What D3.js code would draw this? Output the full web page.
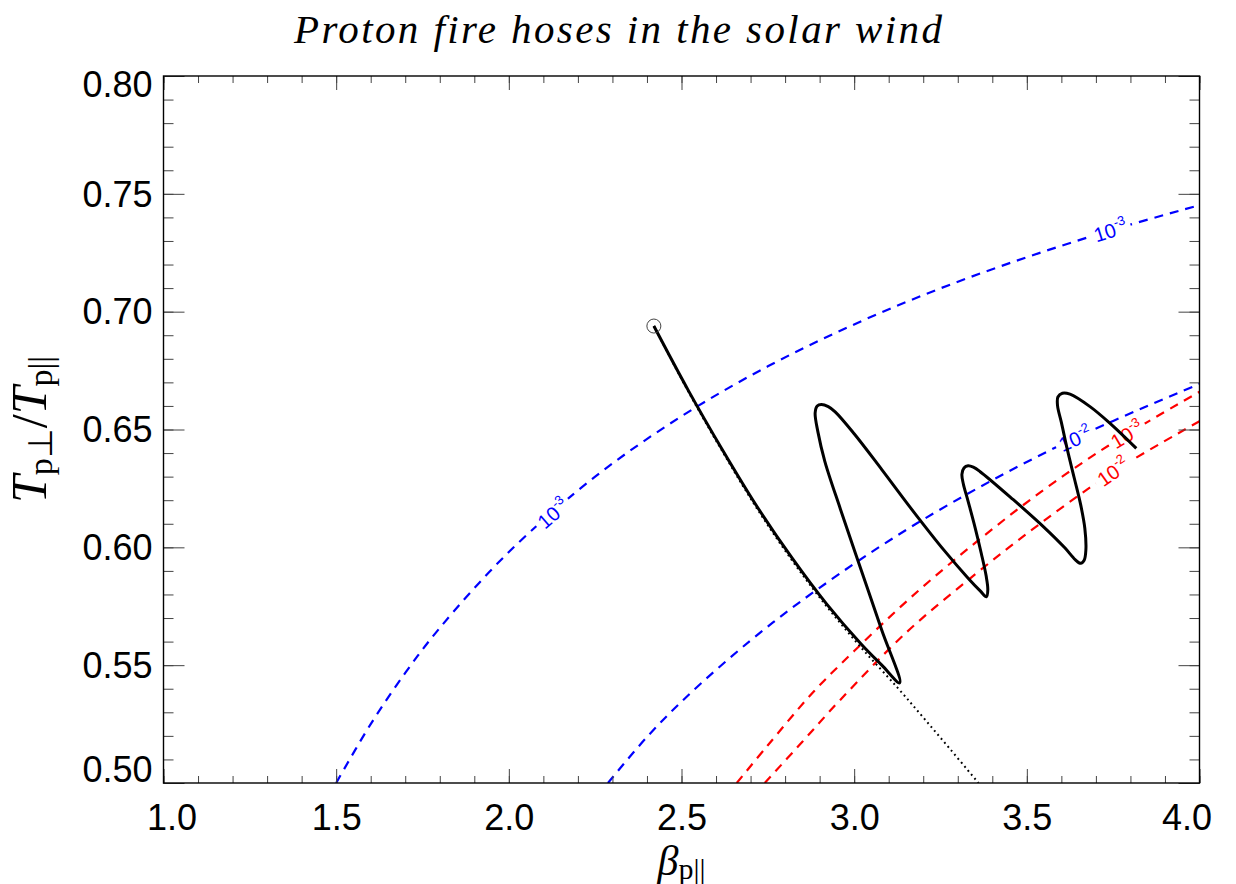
<!DOCTYPE html>
<html>
<head>
<meta charset="utf-8">
<script src="https://cdn.jsdelivr.net/npm/d3@7"></script>
<style>
body { margin: 0; background: #fff; }
svg { display: block; }
</style>
</head>
<body>
<svg id="chart" width="1236" height="884"></svg>
<script>
// values (beta_par, Tperp/Tpar)
var xTicks = [1.0, 1.5, 2.0, 2.5, 3.0, 3.5, 4.0];
var yTicks = [0.50, 0.55, 0.60, 0.65, 0.70, 0.75, 0.80];

// blue contours
var blue3Beta = [1.50, 1.60, 1.70, 1.80, 2.00, 2.25, 2.50, 2.75, 3.00, 3.25, 3.50, 3.75, 4.00];
var blue3T    = [0.500, 0.525, 0.5467, 0.5658, 0.598, 0.630, 0.6556, 0.6768, 0.6946, 0.7099, 0.7231, 0.7348, 0.7452];
var blue2Beta = [2.287, 2.40, 2.515, 2.70, 2.891, 3.183, 3.586, 4.00];
var blue2T    = [0.500, 0.5195, 0.5366, 0.5605, 0.5819, 0.6103, 0.6426, 0.6693];
// red contours
var red3Beta = [2.66, 2.75, 2.881, 3.00, 3.17, 3.364, 3.55, 3.74, 4.00];
var red3T    = [0.500, 0.5160, 0.5385, 0.5560, 0.5795, 0.6035, 0.6245, 0.6435, 0.6660];
var red2Beta = [2.741, 2.85, 2.958, 3.152, 3.35, 3.529, 3.75, 4.00];
var red2T    = [0.500, 0.5175, 0.5350, 0.5640, 0.5885, 0.6090, 0.6320, 0.6535];

// trajectory (solid)
var trajBeta = [2.420, 2.520, 2.620, 2.720, 2.820, 2.920, 3.020, 3.080, 3.132,
  3.080, 3.020, 2.960, 2.915, 2.895, 2.887, 2.893, 2.905, 2.925, 2.945,
  3.000, 3.080, 3.170, 3.260, 3.330, 3.365, 3.383,
  3.387, 3.382, 3.368, 3.350, 3.330, 3.316, 3.312, 3.318, 3.330, 3.345, 3.364,
  3.460, 3.550, 3.610, 3.640, 3.656, 3.666, 3.671,
  3.668, 3.656, 3.638, 3.618, 3.600, 3.589, 3.590, 3.603, 3.625,
  3.683, 3.741, 3.817];
var trajT = [0.6939, 0.6665, 0.6410, 0.6170, 0.5955, 0.5760, 0.5590, 0.5500, 0.5425,
  0.5648, 0.5905, 0.6163, 0.6365, 0.6490, 0.6570, 0.6600, 0.6606, 0.6597, 0.6575,
  0.6482, 0.6330, 0.6155, 0.5988, 0.5869, 0.5815, 0.5790,
  0.5820, 0.5880, 0.5975, 0.6085, 0.6195, 0.6270, 0.6310, 0.6337, 0.6346, 0.6340, 0.6322,
  0.6203, 0.6085, 0.5998, 0.5948, 0.5932, 0.5945, 0.5990,
  0.6080, 0.6180, 0.6290, 0.6410, 0.6530, 0.6600, 0.6638, 0.6654, 0.6650,
  0.6597, 0.6526, 0.6420];

// dotted path
var dotBeta = [2.420, 2.520, 2.620, 2.720, 2.820, 2.920, 3.020, 3.124, 3.200, 3.280, 3.360];
var dotT    = [0.6939, 0.6660, 0.6403, 0.6161, 0.5945, 0.5750, 0.5575, 0.5407, 0.5278, 0.5140, 0.5000];

// contour labels: which curve, where along it (beta), exponent
var labelCurve = ["blue3", "blue3", "blue2", "red3", "red2"];
var labelBeta  = [2.128, 3.742, 3.640, 3.790, 3.750];
var labelExp   = ["-3", "-3", "-2", "-3", "-2"];

//-----------------------------------------------------
function pairs(bs, ts) { return bs.map(function(b, i) { return [b, ts[i]]; }); }

var curves = {
	blue3: {pts: pairs(blue3Beta, blue3T), color: "#0000ff"},
	blue2: {pts: pairs(blue2Beta, blue2T), color: "#0000ff"},
	red3:  {pts: pairs(red3Beta, red3T), color: "#ff0000"},
	red2:  {pts: pairs(red2Beta, red2T), color: "#ff0000"}
};

var x = d3.scaleLinear().domain([1, 4]).range([163.5, 1199.5]);
var y = d3.scaleLinear().domain([0.5, 0.8]).range([783, 76]);

var svg = d3.select("#chart");

svg.append("clipPath").attr("id", "clip")
	.append("rect")
	.attr("x", x(1)).attr("y", y(0.8))
	.attr("width", x(4) - x(1)).attr("height", y(0.5) - y(0.8));

var line = d3.line()
	.x(function(d) { return x(d[0]); })
	.y(function(d) { return y(d[1]); })
	.curve(d3.curveCatmullRom.alpha(0.5));

var plot = svg.append("g").attr("clip-path", "url(#clip)");

// dashed contours
Object.keys(curves).forEach(function(k) {
	plot.append("path")
		.datum(curves[k].pts)
		.attr("d", line)
		.attr("fill", "none")
		.attr("stroke", curves[k].color)
		.attr("stroke-width", 2.2)
		.attr("stroke-dasharray", "9,7");
});

// contour labels, sitting in a gap of the line
labelCurve.forEach(function(ck, i) {
	var pts = curves[ck].pts, beta = labelBeta[i];
	var k = 1;
	while (k < pts.length - 1 && pts[k][0] < beta) k++;
	var a = pts[k - 1], b = pts[k];
	var f = (beta - a[0]) / (b[0] - a[0]);
	var t = a[1] + f * (b[1] - a[1]);
	var ang = Math.atan2(y(b[1]) - y(a[1]), x(b[0]) - x(a[0])) * 180 / Math.PI;

	var g = plot.append("g")
		.attr("transform", "translate(" + x(beta) + "," + y(t) + ") rotate(" + ang + ")");
	var txt = g.append("text")
		.attr("text-anchor", "middle")
		.attr("dy", "0.36em")
		.attr("fill", curves[ck].color)
		.style("font-family", "'Liberation Sans', Arial, sans-serif")
		.style("font-size", "20px");
	txt.append("tspan").text("10");
	txt.append("tspan").attr("dy", -9).style("font-size", "13px").text(labelExp[i]);
	var bb = txt.node().getBBox();
	g.insert("rect", "text")
		.attr("x", bb.x - 4).attr("y", -5)
		.attr("width", bb.width + 8).attr("height", 10)
		.attr("fill", "#fff");
});

// dotted reference path
plot.append("path")
	.datum(pairs(dotBeta, dotT))
	.attr("d", line)
	.attr("fill", "none")
	.attr("stroke", "#000")
	.attr("stroke-width", 2)
	.attr("stroke-dasharray", "1.8,3.4");

// trajectory
plot.append("path")
	.datum(pairs(trajBeta, trajT))
	.attr("d", line)
	.attr("fill", "none")
	.attr("stroke", "#000")
	.attr("stroke-width", 3)
	.attr("stroke-linejoin", "round");

// starting point marker
plot.append("circle")
	.attr("cx", x(trajBeta[0])).attr("cy", y(trajT[0]))
	.attr("r", 7)
	.attr("fill", "none")
	.attr("stroke", "#444")
	.attr("stroke-width", 1);

//-----------------------------------------------------
// axes, ticks pointing inwards
var xMinor = x.ticks(30), yMinor = y.ticks(30);
var tickFont = "'Liberation Sans', Arial, Helvetica, sans-serif";

function styleAxis(g) {
	g.select(".domain").remove();
	g.selectAll(".tick line").attr("stroke", "#444").attr("stroke-width", 1);
	g.selectAll("text").style("font-family", tickFont).style("font-size", "36px").attr("fill", "#000");
}

svg.append("g").attr("transform", "translate(0," + y(0.5) + ")")
	.call(d3.axisBottom(x).tickValues(xMinor).tickSize(-7).tickFormat("")).call(styleAxis);
var xAx = svg.append("g").attr("transform", "translate(0," + y(0.5) + ")")
	.call(d3.axisBottom(x).tickValues(xTicks).tickSize(-14).tickPadding(21).tickFormat(d3.format(".1f")))
	.call(styleAxis);
svg.append("g").attr("transform", "translate(0," + y(0.8) + ")")
	.call(d3.axisTop(x).tickValues(xMinor).tickSize(-7).tickFormat("")).call(styleAxis);
svg.append("g").attr("transform", "translate(0," + y(0.8) + ")")
	.call(d3.axisTop(x).tickValues(xTicks).tickSize(-14).tickFormat("")).call(styleAxis);

svg.append("g").attr("transform", "translate(" + x(1) + ",0)")
	.call(d3.axisLeft(y).tickValues(yMinor).tickSize(-10).tickFormat("")).call(styleAxis);
var yAx = svg.append("g").attr("transform", "translate(" + x(1) + ",0)")
	.call(d3.axisLeft(y).tickValues(yTicks).tickSize(-21).tickPadding(11).tickFormat(d3.format(".2f")))
	.call(styleAxis);
svg.append("g").attr("transform", "translate(" + x(4) + ",0)")
	.call(d3.axisRight(y).tickValues(yMinor).tickSize(-10).tickFormat("")).call(styleAxis);
svg.append("g").attr("transform", "translate(" + x(4) + ",0)")
	.call(d3.axisRight(y).tickValues(yTicks).tickSize(-21).tickFormat("")).call(styleAxis);

// end labels are pulled inside the axis range
xAx.selectAll(".tick text").attr("dx", function(d) {
	return d === xTicks[0] ? 8 : (d === xTicks[xTicks.length - 1] ? -13 : 0);
});
yAx.selectAll(".tick text").attr("dy", function(d) {
	return d === yTicks[0] ? "-0.05em" : (d === yTicks[yTicks.length - 1] ? "0.58em" : "0.34em");
});

// frame
svg.append("rect")
	.attr("x", x(1)).attr("y", y(0.8))
	.attr("width", x(4) - x(1)).attr("height", y(0.5) - y(0.8))
	.attr("fill", "none").attr("stroke", "#000").attr("stroke-width", 1.4);

//-----------------------------------------------------
// titles
var serif = "'Liberation Serif', 'Times New Roman', serif";

svg.append("text")
	.attr("x", 618).attr("y", 43)
	.attr("text-anchor", "middle")
	.attr("textLength", 648).attr("lengthAdjust", "spacing")
	.style("font-family", serif).style("font-style", "italic").style("font-size", "41px")
	.text("Proton fire hoses in the solar wind");

var xl = svg.append("text")
	.attr("x", (x(1) + x(4)) / 2).attr("y", 875)
	.attr("text-anchor", "middle")
	.style("font-family", serif).style("font-size", "42px");
xl.append("tspan").style("font-style", "italic").text("\u03b2");
xl.append("tspan").attr("dy", 4).style("font-size", "30px").text("p||");

var yl = svg.append("text")
	.attr("transform", "translate(46," + ((y(0.5) + y(0.8)) / 2) + ") rotate(-90)")
	.attr("text-anchor", "middle")
	.style("font-family", serif).style("font-size", "50px");
yl.append("tspan").style("font-style", "italic").text("T");
yl.append("tspan").attr("dy", 6).style("font-size", "34px").text("p\u22a5");
yl.append("tspan").attr("dy", -6).text("/");
yl.append("tspan").style("font-style", "italic").text("T");
yl.append("tspan").attr("dy", 6).style("font-size", "34px").text("p||");
</script>
</body>
</html>
